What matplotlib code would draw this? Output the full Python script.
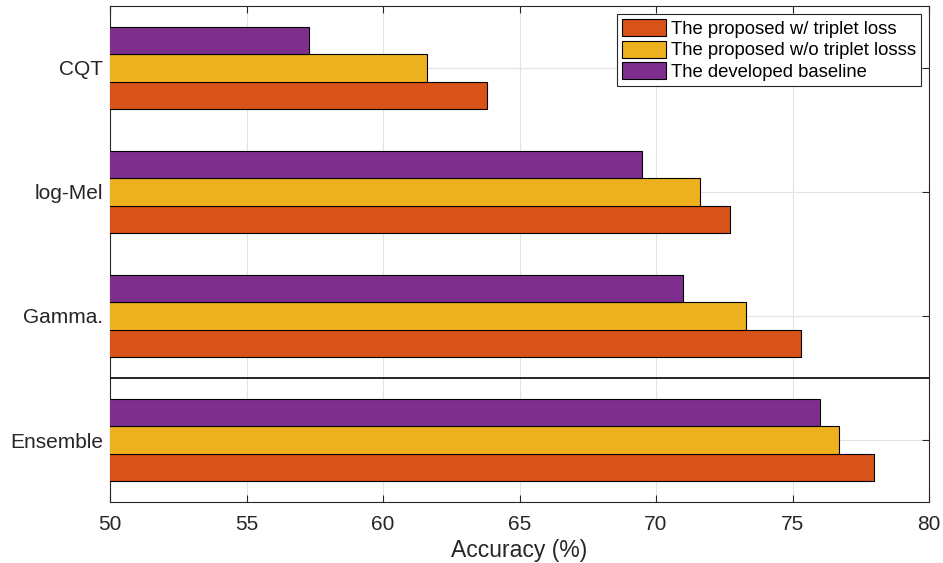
import numpy as np
import matplotlib.pyplot as plt

plt.rcParams['font.family'] = ['Liberation Sans', 'DejaVu Sans']

features = ['CQT', 'log-Mel', 'Gamma.', 'Ensemble']
with_triplet = [63.8, 72.7, 75.3, 78.0]
without_triplet = [61.6, 71.6, 73.3, 76.7]
baseline = [57.3, 69.5, 71.0, 76.0]

series_names = ['The proposed w/ triplet loss',
                'The proposed w/o triplet losss',
                'The developed baseline']
colors = ['#D95319', '#EDB120', '#7E2F8E']

fig = plt.figure(figsize=(9.43, 5.63), dpi=100)
ax = fig.add_axes([110 / 943, 1 - 502 / 563, 819 / 943, 496 / 563])

y = np.arange(len(features))
h = 0.222
offsets = [h, 0, -h]
for vals, off, col, name in zip([with_triplet, without_triplet, baseline],
                                offsets, colors, series_names):
    ax.barh(y + off, vals, height=h, color=col, edgecolor='black',
            linewidth=0.8, label=name, zorder=3)

ax.set_xlim(50, 80)
ax.set_ylim(len(features) - 0.5, -0.5)
ax.set_xticks(np.arange(50, 81, 5))
ax.set_yticks(y)
ax.set_yticklabels(features)
ax.axhline(2.5, color='black', linewidth=1.2, zorder=4)

ax.grid(True, color='#e3e3e3', linewidth=0.8, zorder=0)
ax.tick_params(direction='in', top=True, right=True, labelsize=15,
               colors='#262626', length=5, width=0.8)
ax.tick_params(axis='x', pad=9)
ax.tick_params(axis='y', pad=5)
for sp in ax.spines.values():
    sp.set_color('#262626')
    sp.set_linewidth(0.8)
ax.set_xlabel('Accuracy (%)', fontsize=16.5, color='#262626', labelpad=4)

leg = ax.legend(loc='upper right', fontsize=13.3, frameon=True, fancybox=False,
                edgecolor='#262626', framealpha=1, borderpad=0.25,
                labelspacing=0.15, handlelength=2.4, handleheight=1.05,
                handletextpad=0.25, borderaxespad=0.45)
leg.get_frame().set_linewidth(0.8)

fig.savefig('out.png', dpi=100)
